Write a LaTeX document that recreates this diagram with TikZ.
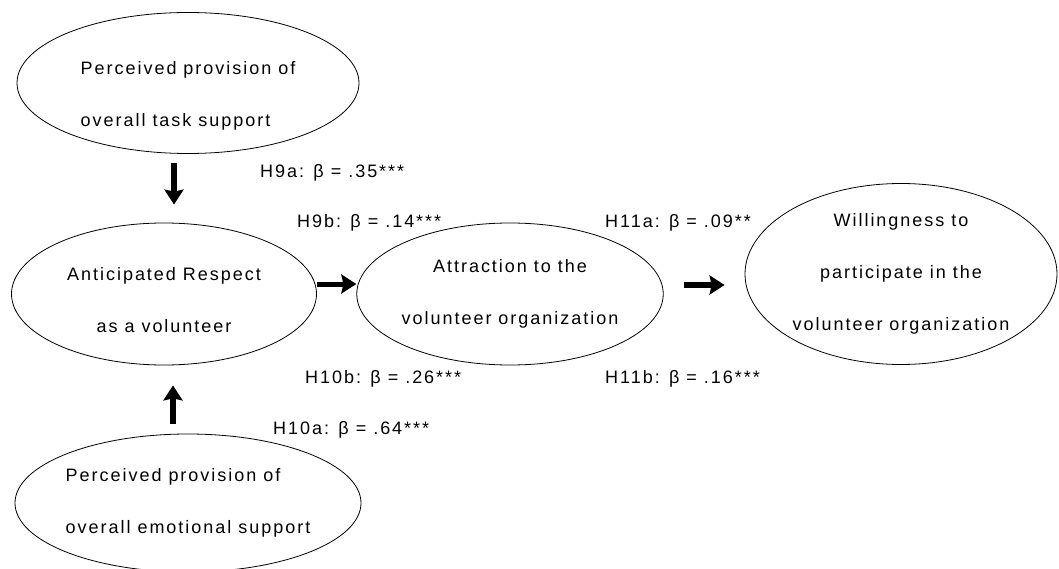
\documentclass[tikz,border=0pt]{standalone}
\usepackage{fontspec}
\setmainfont{Liberation Sans}[LetterSpace=11]
\usepackage{tikz}
\usetikzlibrary{shapes,arrows.meta,positioning}

\begin{document}
\begin{tikzpicture}[x=1pt,y=-1pt,
    every node/.style={font=\fontsize{18}{52}\selectfont},
    construct/.style={ellipse,draw,line width=0.8pt,align=center,inner sep=0pt},
    effect/.style={-{Stealth[length=15pt,width=19pt,inset=2pt]},line width=6pt},
    coef/.style={anchor=base west,inner sep=0pt}]
    \useasboundingbox (0,0) rectangle (1059,569);

    % Constructs of the model
    \node[construct,align=left,minimum width=342pt,minimum height=141pt,text height=90pt] (task) at (188,83)
        {Perceived provision of\\overall task support};
    \node[construct,minimum width=305pt,minimum height=142pt,text height=78pt] (respect) at (164,294)
        {Anticipated Respect\\as a volunteer};
    \node[construct,minimum width=306pt,minimum height=142pt] (attract) at (510,294)
        {Attraction to the\\volunteer organization};
    \node[construct,minimum width=312pt,minimum height=181pt] (willing) at (901,274)
        {Willingness to\\participate in the\\volunteer organization};
    \node[construct,align=left,minimum width=342pt,minimum height=138pt] (emotion) at (188,503)
        {Perceived provision of\\overall emotional support};

    % Paths between constructs
    \draw[effect] ([xshift=-14pt,yshift=-9pt]task.south) -- ([xshift=10pt,yshift=18pt]respect.north);
    \draw[effect] ([xshift=-15pt,yshift=10pt]emotion.north) -- ([xshift=9pt,yshift=-20pt]respect.south);
    \draw[effect,line width=5pt] ([yshift=10pt]respect.east) -- ([yshift=10pt]attract.west);
    \draw[effect] ([xshift=20pt,yshift=9pt]attract.east) -- ([xshift=-20pt,yshift=-11pt]willing.west);

    % Path coefficients
    \node[coef] (h9a) at (260,178) {H9a: β = .35***};
    \node[coef] (h9b) at (297,228) {H9b: β = .14***};
    \node[coef] (h11a) at (605,228) {H11a: β = .09**};
    \node[coef] (h10b) at (305,383) {H10b: β = .26***};
    \node[coef] (h11b) at (605,383) {H11b: β = .16***};
    \node[coef] (h10a) at (273,434) {H10a: β = .64***};
\end{tikzpicture}
\end{document}
